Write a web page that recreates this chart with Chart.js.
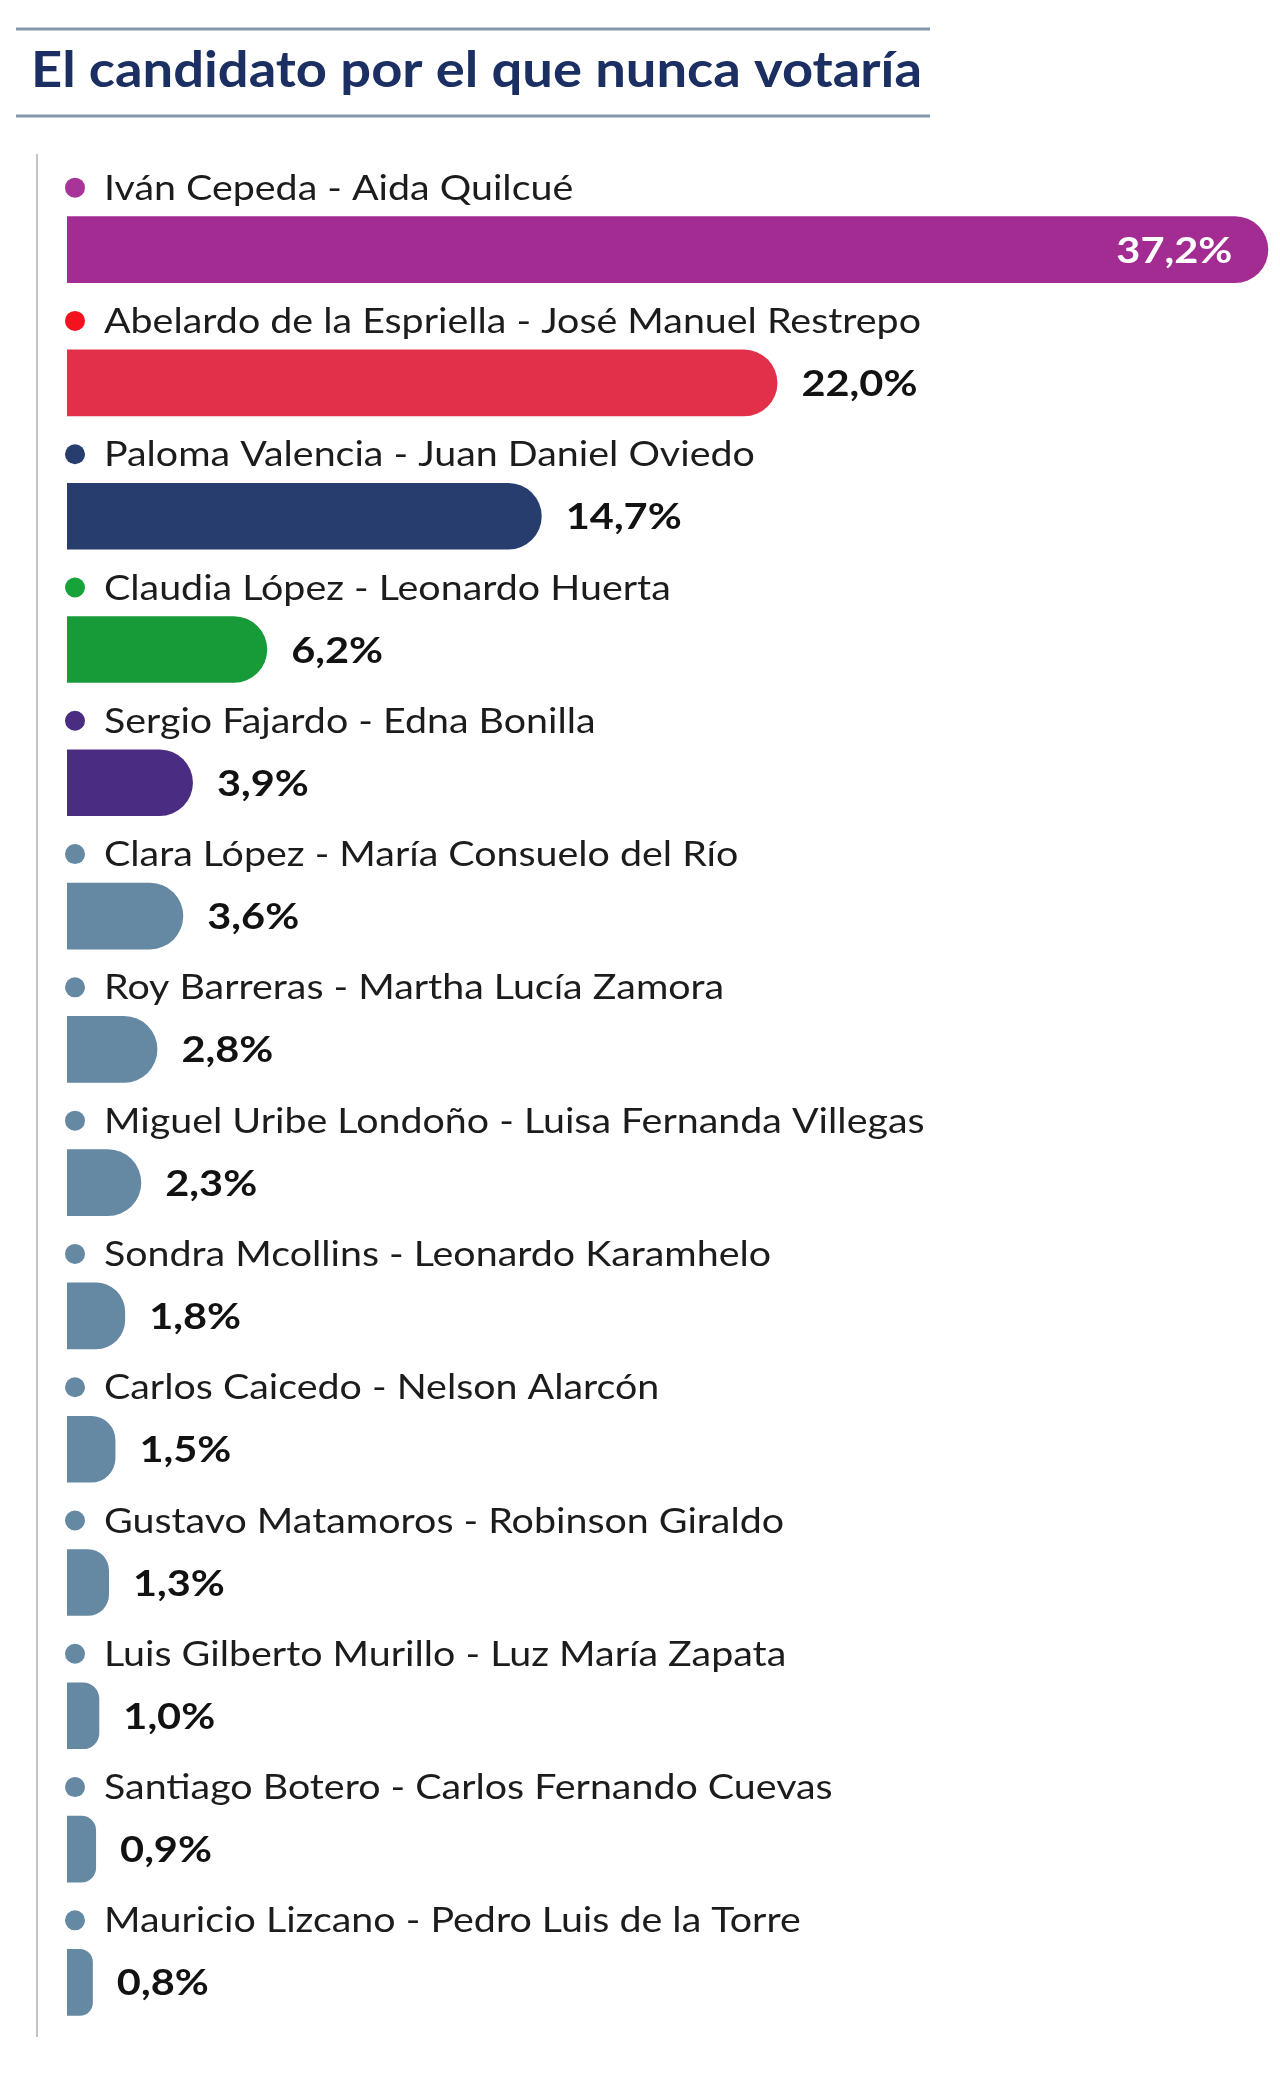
<!DOCTYPE html>
<html lang="es">
<head>
<meta charset="utf-8">
<title>El candidato por el que nunca votaría</title>
<script src="https://cdn.jsdelivr.net/npm/chart.js@4.4.1/dist/chart.umd.min.js"></script>
<style>
  html, body { margin: 0; padding: 0; background: #ffffff; }
  #wrap { position: relative; width: 1280px; height: 2089px; }
</style>
</head>
<body>
<div id="wrap"><canvas id="neverVote"></canvas></div>
<script>
// Fórmulas (presidente - vicepresidente)
const candidates = [
  'Iván Cepeda - Aida Quilcué',
  'Abelardo de la Espriella - José Manuel Restrepo',
  'Paloma Valencia - Juan Daniel Oviedo',
  'Claudia López - Leonardo Huerta',
  'Sergio Fajardo - Edna Bonilla',
  'Clara López - María Consuelo del Río',
  'Roy Barreras - Martha Lucía Zamora',
  'Miguel Uribe Londoño - Luisa Fernanda Villegas',
  'Sondra Mcollins - Leonardo Karamhelo',
  'Carlos Caicedo - Nelson Alarcón',
  'Gustavo Matamoros - Robinson Giraldo',
  'Luis Gilberto Murillo - Luz María Zapata',
  'Santiago Botero - Carlos Fernando Cuevas',
  'Mauricio Lizcano - Pedro Luis de la Torre'
];

// Porcentaje que nunca votaría por cada uno
const neverPct = [37.2, 22.0, 14.7, 6.2, 3.9, 3.6, 2.8, 2.3, 1.8, 1.5, 1.3, 1.0, 0.9, 0.8];

const barColors = [
  '#a32c93', '#e2304b', '#263d6e', '#169b38', '#4a2c83',
  '#6589a3', '#6589a3', '#6589a3', '#6589a3', '#6589a3',
  '#6589a3', '#6589a3', '#6589a3', '#6589a3'
];

const dotColors = [
  '#a83399', '#f3121e', '#263d6e', '#17a33a', '#4a2c83',
  '#6589a3', '#6589a3', '#6589a3', '#6589a3', '#6589a3',
  '#6589a3', '#6589a3', '#6589a3', '#6589a3'
];

const chartTitle = 'El candidato por el que nunca votaría';

const fmt = v => v.toFixed(1).replace('.', ',') + '%';

// draw text squeezed horizontally so the wider fallback font fits Calibri-like widths
function squeezed(ctx, text, x, y, sx) {
  ctx.save();
  ctx.translate(x, y);
  ctx.scale(sx, 1);
  ctx.fillText(text, 0, 0);
  ctx.restore();
}

const decorPlugin = {
  id: 'decor',
  beforeDraw(chart) {
    const ctx = chart.ctx;
    ctx.save();

    // title rules
    ctx.strokeStyle = '#8597ad';
    ctx.lineWidth = 3;
    ctx.beginPath();
    ctx.moveTo(16, 29); ctx.lineTo(930, 29);
    ctx.moveTo(16, 116); ctx.lineTo(930, 116);
    ctx.stroke();

    // title
    ctx.font = 'bold 49px Lato';
    ctx.fillStyle = '#1b2f63';
    ctx.textBaseline = 'alphabetic';
    const tw = ctx.measureText(chartTitle).width;
    squeezed(ctx, chartTitle, 31, 87, 891 / tw);

    // left vertical rule
    ctx.strokeStyle = '#c4c4c4';
    ctx.lineWidth = 2;
    ctx.beginPath();
    ctx.moveTo(37, 154); ctx.lineTo(37, 2037);
    ctx.stroke();

    ctx.restore();
  },
  afterDatasetsDraw(chart) {
    const ctx = chart.ctx;
    const meta = chart.getDatasetMeta(0);
    const yScale = chart.scales.y;
    const xScale = chart.scales.x;
    const x0 = xScale.getPixelForValue(0);

    ctx.save();
    ctx.textBaseline = 'alphabetic';

    // category labels with bullet
    ctx.font = '34px Lato';
    const refW = ctx.measureText(candidates[1]).width;
    const labelSx = 817 / refW;
    candidates.forEach((name, i) => {
      const cy = yScale.getPixelForValue(i);
      ctx.fillStyle = dotColors[i];
      ctx.beginPath();
      ctx.arc(x0 + 8, cy - 62, 10, 0, Math.PI * 2);
      ctx.fill();
      ctx.fillStyle = '#1c1c1c';
      squeezed(ctx, name, x0 + 37, cy - 50, labelSx);
    });

    // value labels
    ctx.font = 'bold 36px Lato';
    const valSx = 116 / ctx.measureText('14,7%').width;
    meta.data.forEach((bar, i) => {
      const txt = fmt(neverPct[i]);
      const w = ctx.measureText(txt).width * valSx;
      const base = bar.y + 13;
      if (neverPct[i] >= 30) {
        ctx.fillStyle = '#ffffff';
        squeezed(ctx, txt, bar.x - 36 - w, base, valSx);
      } else {
        ctx.fillStyle = '#121212';
        squeezed(ctx, txt, bar.x + 24, base, valSx);
      }
    });

    ctx.restore();
  }
};

new Chart(document.getElementById('neverVote'), {
  type: 'bar',
  data: {
    labels: candidates,
    datasets: [{
      label: chartTitle,
      data: neverPct,
      backgroundColor: barColors,
      borderWidth: 0,
      borderRadius: 34,
      borderSkipped: 'start',
      barPercentage: 1.0,
      categoryPercentage: 0.5
    }]
  },
  options: {
    indexAxis: 'y',
    responsive: true,
    maintainAspectRatio: false,
    animation: false,
    layout: {
      padding: { top: 183, bottom: 40, left: 67, right: 2 }
    },
    scales: {
      x: { display: false, min: 0, max: 37.5 },
      y: { display: false }
    },
    plugins: {
      legend: { display: false },
      tooltip: { enabled: false }
    }
  },
  plugins: [decorPlugin]
});
</script>
</body>
</html>
